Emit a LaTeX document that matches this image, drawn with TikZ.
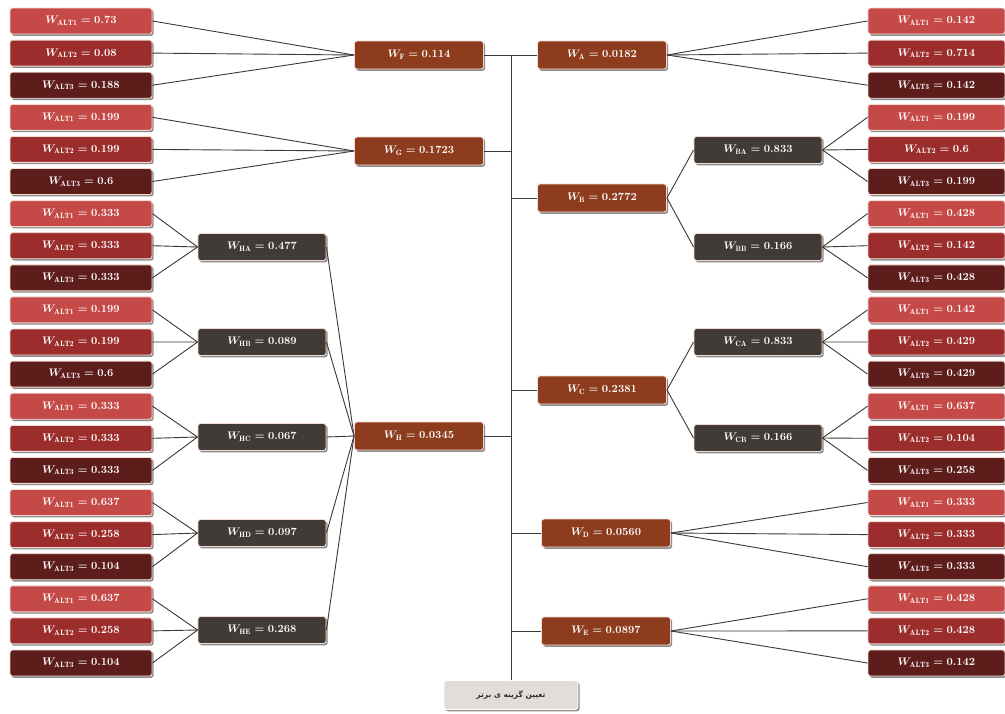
\documentclass[tikz,border=0pt]{standalone}
\usepackage{fontspec}
\newfontfamily\arabicfont[Script=Arabic]{DejaVu Sans}
\TeXXeTstate=1
\usetikzlibrary{shadows}
\definecolor{alt1}{HTML}{C54A47}
\definecolor{alt2}{HTML}{9B2D2C}
\definecolor{alt3}{HTML}{5C1D1B}
\definecolor{crit}{HTML}{8D3D1E}
\definecolor{subc}{HTML}{413B37}
\definecolor{goalc}{HTML}{E2DDD9}
\definecolor{wire}{HTML}{3A3A3A}
\definecolor{rim}{HTML}{F3D9D2}
\newcommand{\wlab}[2]{$W_{\mathrm{#1}} = #2$}
\tikzset{
  box/.style={rounded corners=2.5pt, text=white!95!pink, draw=rim, line width=0.9pt,
    font=\fontsize{11}{13}\selectfont\bfseries\boldmath, inner sep=0pt,
    drop shadow={shadow xshift=1.6pt, shadow yshift=-1.8pt, fill=black!60, opacity=.75}},
  leaf/.style={box, minimum width=142pt, minimum height=26pt},
  rleaf/.style={box, minimum width=137pt, minimum height=26pt},
  critbox/.style={box, fill=crit, minimum width=129pt, minimum height=28pt},
  subbox/.style={box, fill=subc, minimum width=128pt, minimum height=27pt},
  goalbox/.style={rounded corners=2.5pt, fill=goalc, draw=white, line width=0.8pt,
    minimum width=134pt, minimum height=29pt, inner sep=0pt, text=black!85,
    font=\fontsize{7.5}{9}\selectfont\bfseries,
    drop shadow={shadow xshift=1.6pt, shadow yshift=-1.8pt, fill=black!60, opacity=.75}},
  wire/.style={draw=wire, line width=0.9pt}
}
\begin{document}
\begin{tikzpicture}[x=1pt,y=-1pt]
\useasboundingbox (0,0) rectangle (1005,713);
\fill[white] (0,0) rectangle (1005,713);
% criteria
\node[critbox] (F) at (419,55) {\wlab{F}{0.114}};
\node[critbox] (G) at (419,151) {\wlab{G}{0.1723}};
\node[critbox] (H) at (419,436) {\wlab{H}{0.0345}};
\node[critbox] (A) at (602,55) {\wlab{A}{0.0182}};
\node[critbox] (B) at (602,198) {\wlab{B}{0.2772}};
\node[critbox] (C) at (602,390) {\wlab{C}{0.2381}};
\node[critbox] (D) at (606,533) {\wlab{D}{0.0560}};
\node[critbox] (E) at (606,631) {\wlab{E}{0.0897}};
% sub-criteria
\node[subbox] (HA) at (262,247) {\wlab{HA}{0.477}};
\node[subbox] (HB) at (262,342) {\wlab{HB}{0.089}};
\node[subbox] (HC) at (262,437) {\wlab{HC}{0.067}};
\node[subbox] (HD) at (262,533) {\wlab{HD}{0.097}};
\node[subbox] (HE) at (262,630) {\wlab{HE}{0.268}};
\node[subbox] (BA) at (758,150) {\wlab{BA}{0.833}};
\node[subbox] (BB) at (758,247) {\wlab{BB}{0.166}};
\node[subbox] (CA) at (758,342) {\wlab{CA}{0.833}};
\node[subbox] (CB) at (758,438) {\wlab{CB}{0.166}};
% goal
\node[goalbox] (goal) at (511,695) {\arabicfont\beginR تعیین گزینه ی برتر\endR};
% left leaves
\foreach \v [count=\i] in {0.73,0.08,0.188,0.199,0.199,0.6,0.333,0.333,0.333,0.199,0.199,0.6,0.333,0.333,0.333,0.637,0.258,0.104,0.637,0.258,0.104}{
  \pgfmathsetmacro\yy{21+32.1*(\i-1)}
  \pgfmathtruncatemacro\m{mod(\i-1,3)+1}
  \node[leaf, fill=alt\m] (L\i) at (81,\yy) {\wlab{ALT\m}{\v}};
}
% right leaves
\foreach \v [count=\i] in {0.142,0.714,0.142,0.199,0.6,0.199,0.428,0.142,0.428,0.142,0.429,0.429,0.637,0.104,0.258,0.333,0.333,0.333,0.428,0.428,0.142}{
  \pgfmathsetmacro\yy{21+32.1*(\i-1)}
  \pgfmathtruncatemacro\m{mod(\i-1,3)+1}
  \node[rleaf, fill=alt\m] (R\i) at (936.5,\yy) {\wlab{ALT\m}{\v}};
}
% leaf connectors
\foreach \p [count=\k from 0] in {F,G,HA,HB,HC,HD,HE}{
  \foreach \j in {1,2,3}{
    \pgfmathtruncatemacro\ii{3*\k+\j}
    \draw[wire] (L\ii.east) -- (\p.west);
  }
}
\foreach \p [count=\k from 0] in {A,BA,BB,CA,CB,D,E}{
  \foreach \j in {1,2,3}{
    \pgfmathtruncatemacro\ii{3*\k+\j}
    \draw[wire] (\p.east) -- (R\ii.west);
  }
}
% sub to criteria
\foreach \s in {HA,HB,HC,HD,HE}{\draw[wire] (\s.east) -- (H.west);}
\draw[wire] (B.east) -- (BA.west);
\draw[wire] (B.east) -- (BB.west);
\draw[wire] (C.east) -- (CA.west);
\draw[wire] (C.east) -- (CB.west);
% trunk
\draw[wire] (goal.north) -- (goal.north |- F.east);
\foreach \c in {F,G,H}{\draw[wire] (\c.east) -- (\c.east -| goal.north);}
\foreach \c in {A,B,C,D,E}{\draw[wire] (\c.west) -- (\c.west -| goal.north);}
\end{tikzpicture}
\end{document}
